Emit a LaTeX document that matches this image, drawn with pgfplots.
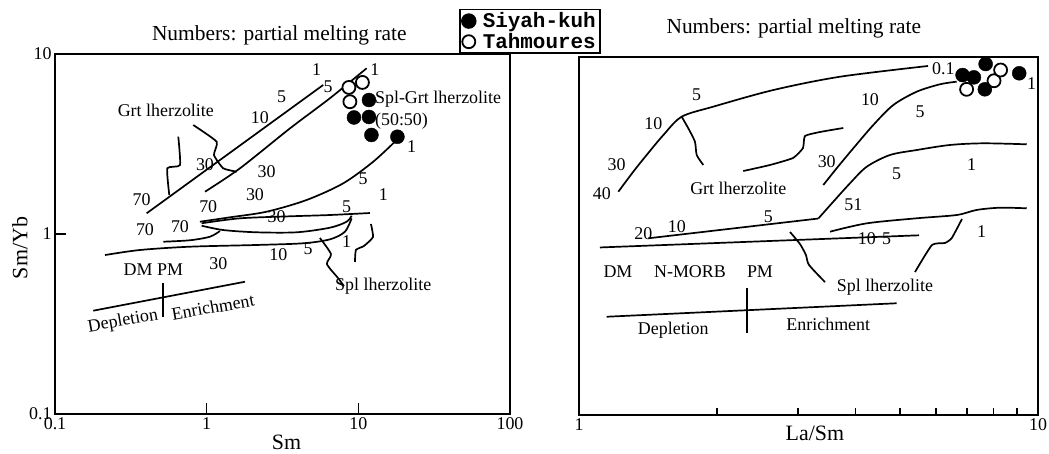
\documentclass[border=0pt]{standalone}
\usepackage{pgfplots}
\pgfplotsset{compat=1.18}
\usepackage{fontspec}
\setmainfont{Liberation Serif}
\newfontfamily\legfont{Liberation Mono}
\newcommand\lab{\fontsize{18}{20}\selectfont}
\newcommand\tit{\fontsize{21.5}{23}\selectfont}
\newcommand\axl{\fontsize{22}{24}\selectfont}
\pgfplotsset{
  curve/.style={black, line width=1.7bp, no marks, forget plot},
  sk/.style={only marks, mark=*, mark size=7bp, mark options={fill=black, draw=black}},
  th/.style={only marks, mark=*, mark size=6.5bp, mark options={fill=white, draw=black, line width=1.8bp}},
}
\tikzset{lbl/.style={font=\lab, inner sep=0pt}}
\begin{document}
\begin{tikzpicture}
\path[use as bounding box] (0,0) rectangle (1049bp,454bp);
% ---------------- left panel ----------------
\begin{axis}[
  at={(55bp,40bp)}, anchor=south west,
  scale only axis, width=455bp, height=360bp,
  xmode=log, ymode=log, xmin=0.1, xmax=100, ymin=0.1, ymax=10,
  xtick={0.1,1,10,100}, xticklabels={0.1,1,10,100},
  ytick={0.1,1,10}, yticklabels={0.1,1,10},
  xminorticks=false, yminorticks=false,
  xtick pos=lower, ytick pos=left, tick align=inside,
  major tick length=11bp,
  axis line style={line width=1.8bp},
  every tick/.style={line width=1.5bp, black},
  tick label style={font=\lab},
  /pgf/number format/assume math mode=true,
  clip=false,
  legend style={at={(0.888,1.125)}, anchor=north west, draw=black, line width=1.5bp,
    fill=white, font=\legfont\bfseries\fontsize{21}{21}\selectfont,
    inner xsep=2bp, inner ysep=1bp, row sep=0bp,
    /tikz/every odd column/.append style={column sep=5bp}},
  legend cell align=left, reverse legend,
]
\addplot[curve] coordinates {(0.402,1.303) (5.87,6.73)};
\addplot[curve, smooth] coordinates {(0.975,1.718) (1.658,2.317) (3.54,3.86) (6.50,5.68) (11.34,8.33)};
\addplot[curve, smooth] coordinates {(0.903,1.170) (1.424,1.238) (2.486,1.330) (4.56,1.545) (7.95,1.912) (12.54,2.522) (17.89,3.328)};
\addplot[curve, smooth] coordinates {(0.927,1.147) (1.658,1.222) (3.54,1.254) (6.50,1.275) (11.93,1.308)};
\addplot[curve, smooth] coordinates {(0.927,1.112) (1.286,1.052) (2.136,1.022) (3.92,1.022) (6.50,1.084) (8.37,1.170) (9.03,1.264)};
\addplot[curve, smooth] coordinates {(0.5176,0.906) (0.776,0.923) (1.051,0.966) (1.224,1.039)};
\addplot[curve, smooth] coordinates {(0.2136,0.764) (0.3634,0.815) (0.776,0.850) (2.136,0.869) (4.33,0.888) (6.50,0.934) (8.16,1.030) (9.03,1.222)};
\addplot[curve, smooth, tension=0.3] coordinates {(0.650,3.472) (0.667,2.416) (0.550,2.317) (0.567,1.647)};
\addplot[curve, smooth, tension=0.3] coordinates {(0.816,4.03) (1.164,3.257) (1.117,2.748) (1.286,2.317) (1.577,2.219)};
\addplot[curve, smooth, tension=0.4] coordinates {(5.58,0.950) (6.60,0.774) (6.21,0.681) (7.34,0.570) (8.04,0.514)};
\addplot[curve, smooth, tension=0.3] coordinates {(12.11,1.137) (12.49,0.962) (10.89,0.858) (9.64,0.815) (9.50,0.699)};
\addplot[curve] coordinates {(0.1788,0.375) (1.789,0.543)};
\addplot[curve] coordinates {(0.5176,0.532) (0.5176,0.347)};
\addplot[th] coordinates {(8.67,6.52) (10.64,6.95) (8.80,5.43)};
\addplot[sk] coordinates {(11.75,5.55) (9.36,4.44) (11.75,4.47) (12.2,3.55) (18.1,3.47)};
\legend{Tahmoures,Siyah-kuh}
% labels
\node[lbl] at (axis cs:0.373,1.545) {70};
\node[lbl] at (axis cs:0.975,2.416) {30};
\node[lbl] at (axis cs:2.245,4.41) {10};
\node[lbl] at (axis cs:3.12,5.79) {5};
\node[lbl] at (axis cs:5.31,8.15) {1};
\node[lbl] at (axis cs:1.024,1.418) {70};
\node[lbl] at (axis cs:2.486,2.219) {30};
\node[lbl] at (axis cs:6.33,6.58) {5};
\node[lbl] at (axis cs:12.86,8.15) {1};
\node[lbl] at (axis cs:2.082,1.647) {30};
\node[lbl] at (axis cs:10.77,2.039) {5};
\node[lbl] at (axis cs:22.45,3.055) {1};
\node[lbl] at (axis cs:14.6,1.647) {1};
\node[lbl] at (axis cs:8.37,1.418) {5};
\node[lbl] at (axis cs:2.894,1.248) {30};
\node[lbl] at (axis cs:0.667,1.098) {70};
\node[lbl] at (axis cs:0.392,1.052) {70};
\node[lbl] at (axis cs:1.193,0.688) {30};
\node[lbl] at (axis cs:2.965,0.764) {10};
\node[lbl] at (axis cs:4.67,0.833) {5};
\node[lbl] at (axis cs:8.37,0.906) {1};
\node[lbl] at (axis cs:0.445,0.631) {DM PM};
\node[lbl] at (axis cs:14.6,0.510) {Spl lherzolite};
\node[lbl] at (axis cs:0.538,4.89) {Grt lherzolite};
\node[lbl, anchor=west] at (axis cs:12.86,5.62) {Spl-Grt lherzolite};
\node[lbl, anchor=west] at (axis cs:12.86,4.21) {(50:50)};
\node[lbl, rotate=10] at (axis cs:0.281,0.326) {Depletion};
\node[lbl, rotate=10] at (axis cs:1.100,0.393) {Enrichment};
\node[font=\tit, inner sep=0pt] at (rel axis cs:0.493,1.053) {Numbers: partial melting rate};
\node[font=\axl, inner sep=0pt] at (rel axis cs:0.509,-0.078) {Sm};
\node[font=\axl, inner sep=0pt, rotate=90] at (rel axis cs:-0.077,0.461) {Sm/Yb};
\end{axis}
% ---------------- right panel ----------------
\begin{axis}[
  at={(579bp,39bp)}, anchor=south west,
  scale only axis, width=459bp, height=358bp,
  xmode=log, ymode=log, xmin=1, xmax=10, ymin=0.1, ymax=10,
  xtick={1,10}, xticklabels={1,10}, ytick=\empty,
  yminorticks=false,
  xtick pos=lower, tick align=inside,
  major tick length=0bp, minor tick length=7bp,
  axis line style={line width=1.8bp},
  every tick/.style={line width=1.5bp, black},
  tick label style={font=\lab},
  /pgf/number format/assume math mode=true,
  clip=false,
]
\addplot[curve, smooth] coordinates {(1.218,1.768) (1.313,2.287) (1.404,2.835) (1.527,3.666) (1.674,4.64) (1.962,5.28) (2.651,6.54) (3.704,7.76) (5.76,8.91)};
\addplot[curve, smooth, tension=0.4] coordinates {(1.674,4.64) (1.730,4.00) (1.789,3.363) (1.805,2.835) (1.866,2.493)};
\addplot[curve, smooth, tension=0.3] coordinates {(2.280,2.307) (2.607,2.493) (2.926,2.728) (3.076,3.101) (3.107,3.620) (3.350,3.811) (3.765,4.012)};
\addplot[curve, smooth] coordinates {(3.406,1.927) (3.642,2.389) (3.959,3.090) (4.377,4.17) (4.838,5.39) (5.441,6.40) (6.116,7.04) (6.65,7.28)};
\addplot[curve] coordinates {(1.416,0.971) (3.322,1.252)};
\addplot[curve, smooth] coordinates {(3.322,1.252) (3.581,1.554) (3.894,1.970) (4.236,2.439) (4.759,2.835) (5.441,3.022) (6.43,3.225) (7.60,3.295) (9.45,3.253)};
\addplot[curve, smooth] coordinates {(3.523,1.057) (4.236,1.177) (5.441,1.256) (6.65,1.310) (7.35,1.398) (8.26,1.439) (9.45,1.428)};
\addplot[curve] coordinates {(1.111,0.863) (5.505,1.009)};
\addplot[curve, smooth, tension=0.4] coordinates {(2.882,1.053) (3.030,0.902) (3.122,0.783) (3.171,0.689) (3.435,0.553)};
\addplot[curve, smooth, tension=0.3] coordinates {(6.83,1.245) (6.49,0.975) (6.27,0.914) (5.875,0.891) (5.395,0.629)};
\addplot[curve] coordinates {(1.149,0.354) (4.922,0.421)};
\addplot[curve] coordinates {(2.326,0.510) (2.326,0.286)};
\addplot[th] coordinates {(6.99,6.60) (8.02,7.37) (8.29,8.46)};
\addplot[sk] coordinates {(6.85,7.93) (7.25,7.70) (7.69,9.14) (7.66,6.60) (9.10,8.11)};
% labels
\node[lbl] at (axis cs:1.121,1.732) {40};
\node[lbl] at (axis cs:1.208,2.493) {30};
\node[lbl] at (axis cs:1.452,4.26) {10};
\node[lbl] at (axis cs:1.805,6.13) {5};
\node[lbl] at (axis cs:6.22,8.65) {0.1};
\node[lbl] at (axis cs:9.69,7.13) {1};
\node[lbl] at (axis cs:4.305,5.75) {10};
\node[lbl] at (axis cs:5.532,4.95) {5};
\node[lbl] at (axis cs:3.465,2.601) {30};
\node[lbl] at (axis cs:2.224,1.847) {Grt lherzolite};
\node[lbl] at (axis cs:4.922,2.240) {5};
\node[lbl] at (axis cs:7.17,2.493) {1};
\node[lbl] at (axis cs:3.959,1.490) {51};
\node[lbl] at (axis cs:1.381,1.035) {20};
\node[lbl] at (axis cs:1.633,1.127) {10};
\node[lbl] at (axis cs:2.585,1.282) {5};
\node[lbl] at (axis cs:4.236,0.971) {10};
\node[lbl] at (axis cs:4.68,0.962) {5};
\node[lbl] at (axis cs:7.54,1.057) {1};
\node[lbl] at (axis cs:1.216,0.632) {DM};
\node[lbl] at (axis cs:1.745,0.632) {N-MORB};
\node[lbl] at (axis cs:2.479,0.632) {PM};
\node[lbl] at (axis cs:4.642,0.521) {Spl lherzolite};
\node[lbl] at (axis cs:1.605,0.2986) {Depletion};
\node[lbl] at (axis cs:3.493,0.3224) {Enrichment};
\node[font=\tit, inner sep=0pt] at (rel axis cs:0.468,1.081) {Numbers: partial melting rate};
\node[font=\axl, inner sep=0pt] at (rel axis cs:0.514,-0.051) {La/Sm};
\end{axis}
\end{tikzpicture}
\end{document}
